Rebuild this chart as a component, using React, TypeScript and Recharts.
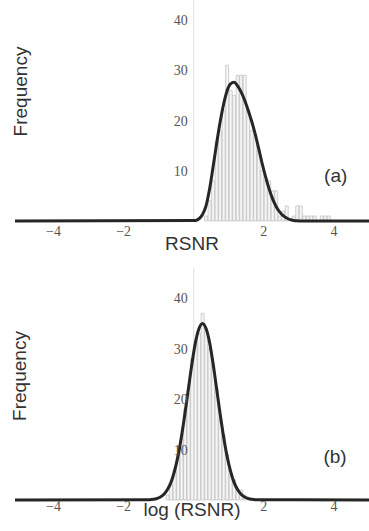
import {
  ComposedChart,
  Bar,
  Line,
  XAxis,
  YAxis,
  ReferenceLine,
  ReferenceDot,
} from "recharts";

const xTicks = [-4, -2, 2, 4];
const yTicks = [10, 20, 30, 40];
const curveEnds = [-5.1, 5];

// panel (a): RSNR, bins of 0.1
const binsA = [
  0.05, 0.15, 0.25, 0.35, 0.45, 0.55, 0.65, 0.75, 0.85, 0.95,
  1.05, 1.15, 1.25, 1.35, 1.45, 1.55, 1.65, 1.75, 1.85, 1.95,
  2.05, 2.15, 2.25, 2.35, 2.45, 2.55, 2.65, 2.75, 2.85, 2.95,
  3.05, 3.15, 3.25, 3.35, 3.45, 3.55, 3.65, 3.75, 3.85, 3.95,
];
const freqA = [
  0, 0, 0, 1, 4, 8, 16, 18, 22, 31,
  26, 25, 29, 29, 29, 22, 18, 17, 14, 10,
  8, 8, 6, 6, 1, 2, 3, 0, 1, 3,
  3, 1, 1, 1, 1, 0, 1, 1, 1, 0,
];
const fitA = [
  0.1, 0.45, 1.3, 3, 6.3, 10.7, 15.3, 19.6, 23.2, 25.9,
  27.3, 27.6, 26.9, 25.7, 24.1, 22.1, 19.9, 17.4, 14.5, 11.5,
  8.8, 6.4, 4.4, 2.9, 1.8, 1.05, 0.6, 0.28, 0.12, 0.04,
  0, 0, 0, 0, 0, 0, 0, 0, 0, 0,
];

// panel (b): log(RSNR)
const binsB = [
  -1.25, -1.15, -1.05, -0.95, -0.85, -0.75, -0.65, -0.55, -0.45, -0.35,
  -0.25, -0.15, -0.05, 0.05, 0.15, 0.25, 0.35, 0.45, 0.55, 0.65,
  0.75, 0.85, 0.95, 1.05, 1.15, 1.25, 1.35, 1.45, 1.55, 1.65, 1.75,
];
const freqB = [
  0, 0, 0, 0, 0, 1, 3, 6, 9, 12,
  18, 21, 28, 31, 33, 37, 34, 30, 27, 22,
  16, 13, 9, 5, 4, 2, 2, 1, 0, 0, 0,
];
const fitB = [
  0.06, 0.13, 0.29, 0.59, 1.13, 2.06, 3.5, 5.7, 8.7, 12.6,
  17.2, 22.2, 27.1, 31.3, 34.0, 35, 34.0, 31.3, 27.1, 22.2,
  17.2, 12.6, 8.7, 5.7, 3.5, 2.06, 1.13, 0.59, 0.29, 0.13, 0.06,
];

function buildRows(bins: number[], freq: number[], fit: number[]) {
  const rows: { x: number; freq?: number; fit: number }[] = bins.map((x, i) => ({
    x,
    freq: freq[i],
    fit: fit[i],
  }));
  return [{ x: curveEnds[0], fit: 0 }, ...rows, { x: curveEnds[1], fit: 0 }];
}

const SERIF = '"Liberation Serif", "Times New Roman", serif';
const SANS = '"Liberation Sans", Arial, sans-serif';
const fmt = (v: number) => (v < 0 ? `\u2212${-v}` : `${v}`);

interface PanelProps {
  rows: ReturnType<typeof buildRows>;
  height: number;
  marginTop: number;
  yMax: number;
  axisHeight: number;
  tickMargin: number;
  xLabel: string;
  xLabelOffset: number;
  freqDx: number;
  freqDy: number;
  tag: string;
  tagX: number;
  tagY: number;
}

function Panel(p: PanelProps) {
  return (
    <ComposedChart
      width={369}
      height={p.height}
      data={p.rows}
      margin={{ top: p.marginTop, right: 0, bottom: 0, left: 0 }}
    >
      <XAxis
        dataKey="x"
        type="number"
        domain={[curveEnds[0], curveEnds[1]]}
        ticks={xTicks}
        allowDataOverflow
        height={p.axisHeight}
        axisLine={false}
        tickLine={false}
        tickSize={0}
        tickMargin={p.tickMargin}
        tickFormatter={fmt}
        tick={{ fontSize: 14, fill: "#555", fontFamily: SERIF }}
        label={{
          value: p.xLabel,
          position: "insideTop",
          offset: p.xLabelOffset,
          fontSize: 19,
          fill: "#333",
          fontFamily: SANS,
        }}
      />
      <YAxis
        domain={[0, p.yMax]}
        width={15}
        tick={false}
        axisLine={false}
        tickLine={false}
        label={{
          value: "Frequency",
          angle: -90,
          position: "center",
          dx: p.freqDx,
          dy: p.freqDy,
          fontSize: 19,
          fill: "#333",
          fontFamily: SANS,
        }}
      />
      <ReferenceLine x={0} stroke="#dedede" strokeWidth={1} />
      <Bar
        dataKey="freq"
        fill="#f5f5f5"
        stroke="#bcbcbc"
        strokeWidth={0.7}
        barCategoryGap={0}
        isAnimationActive={false}
      />
      <Line
        dataKey="fit"
        type="monotone"
        stroke="#262626"
        strokeWidth={3}
        dot={false}
        connectNulls
        isAnimationActive={false}
      />
      {yTicks.map((t) => (
        <ReferenceDot
          key={t}
          x={0}
          y={t}
          r={0}
          fill="none"
          stroke="none"
          label={{
            value: String(t),
            position: "left",
            offset: 6,
            fontSize: 14,
            fill: "#555",
            fontFamily: SERIF,
          }}
        />
      ))}
      <ReferenceDot
        x={p.tagX}
        y={p.tagY}
        r={0}
        fill="none"
        stroke="none"
        label={{
          value: p.tag,
          position: "center",
          fontSize: 19,
          fill: "#333",
          fontFamily: SANS,
        }}
      />
    </ComposedChart>
  );
}

export default function App() {
  return (
    <div style={{ position: "absolute", left: 0, top: 0, width: 369, height: 531, background: "#fff" }}>
      <Panel
        rows={buildRows(binsA, freqA, fitA)}
        height={265}
        marginTop={0}
        yMax={44}
        axisHeight={44}
        tickMargin={5}
        xLabel="RSNR"
        xLabelOffset={16}
        freqDx={13}
        freqDy={-19}
        tag="(a)"
        tagX={4.05}
        tagY={9.2}
      />
      <Panel
        rows={buildRows(binsB, freqB, fitB)}
        height={266}
        marginTop={3}
        yMax={46}
        axisHeight={31}
        tickMargin={1}
        xLabel="log (RSNR)"
        xLabelOffset={3}
        freqDx={12}
        freqDy={-8}
        tag="(b)"
        tagX={4.03}
        tagY={8.7}
      />
    </div>
  );
}
